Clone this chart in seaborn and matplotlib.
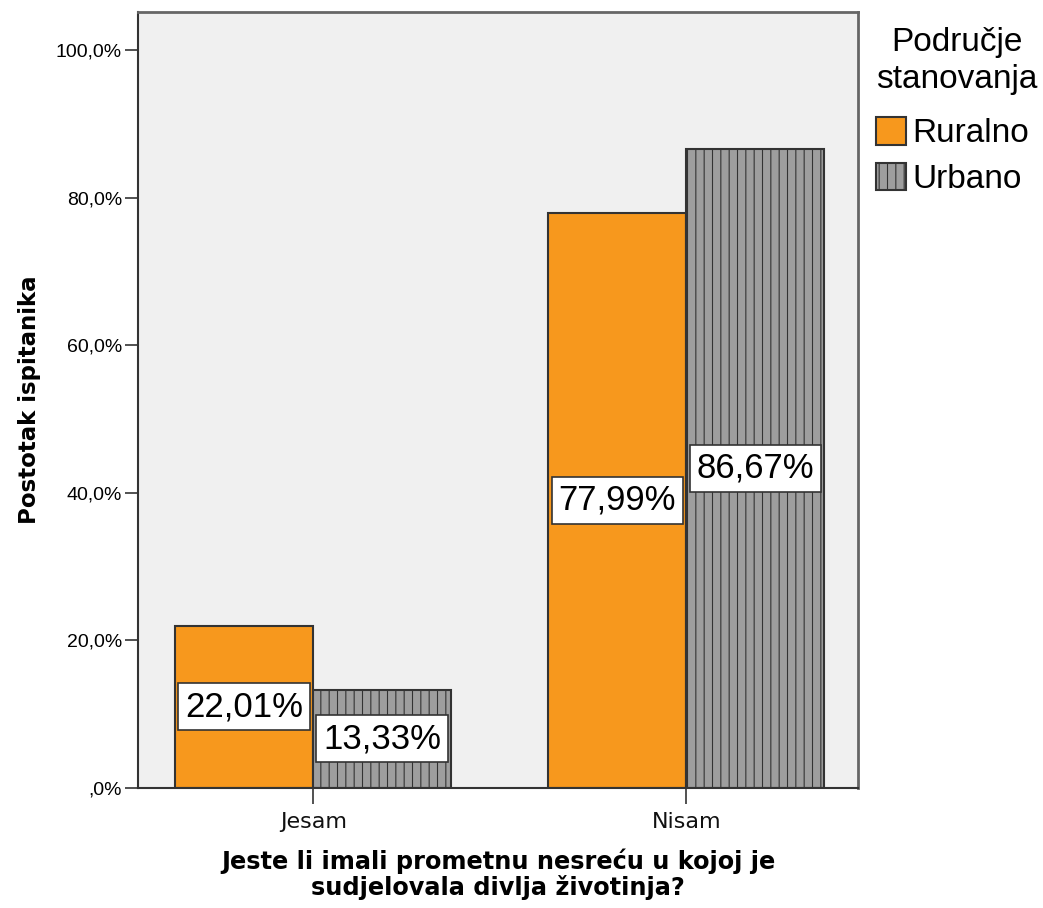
import matplotlib
matplotlib.use("Agg")
import matplotlib.pyplot as plt
import matplotlib.patches as mpatches
import seaborn as sns
import pandas as pd

# ---- data ----
categories = ["Jesam", "Nisam"]
groups = ["Ruralno", "Urbano"]
ruralno = [22.01, 77.99]
urbano = [13.33, 86.67]
value_labels_ruralno = ["22,01%", "77,99%"]
value_labels_urbano = ["13,33%", "86,67%"]
y_ticks = [0, 20, 40, 60, 80, 100]
y_tick_labels = [",0%", "20,0%", "40,0%", "60,0%", "80,0%", "100,0%"]

df = pd.DataFrame({
    "odgovor": categories * 2,
    "podrucje": [groups[0]] * 2 + [groups[1]] * 2,
    "postotak": ruralno + urbano,
})

ORANGE = "#F7981D"
GREY = "#9E9E9E"
EDGE = "#333333"

sns.set_theme(style="white")
plt.rcParams["font.family"] = ["Liberation Sans", "DejaVu Sans"]
plt.rcParams["hatch.color"] = "#808080"
plt.rcParams["hatch.linewidth"] = 0.8
plt.rcParams["text.color"] = "black"
plt.rcParams["axes.labelcolor"] = "black"
plt.rcParams["xtick.color"] = "black"
plt.rcParams["ytick.color"] = "black"

fig = plt.figure(figsize=(10.43, 9.08), dpi=100)
ax = fig.add_axes([138 / 1043, 1 - 788 / 908, (858 - 138) / 1043, (788 - 12) / 908])
ax.set_facecolor("#F0F0F0")

sns.barplot(data=df, x="odgovor", y="postotak", hue="podrucje",
            order=categories, hue_order=groups,
            palette=[ORANGE, GREY], saturation=1, width=0.74, gap=0,
            edgecolor=EDGE, linewidth=1.5, errorbar=None, ax=ax, legend=False)

# hatch the urban bars
for cont, grp in zip(ax.containers, groups):
    if grp == "Urbano":
        for p in cont:
            p.set_hatch("||")

ax.set_xlim(-0.47, 1.46)
ax.set_ylim(0, 105.2)
ax.set_yticks(y_ticks)
ax.set_yticklabels(y_tick_labels, fontsize=14)
ax.tick_params(axis="y", length=9.5, width=1.2, color="#333333", pad=2, left=True)
ax.tick_params(axis="x", length=11.5, width=1.2, color="#333333", pad=6, bottom=True)
for lbl in ax.get_xticklabels():
    lbl.set_family(["DejaVu Sans"])
    lbl.set_fontsize(16)
    lbl.set_color("#111111")

for s in ["top", "right"]:
    ax.spines[s].set_color("#666666")
    ax.spines[s].set_linewidth(2)
for s in ["left", "bottom"]:
    ax.spines[s].set_color("#333333")
    ax.spines[s].set_linewidth(1.5)

ax.set_ylabel("Postotak ispitanika", fontsize=16.5, fontweight="bold",
              family=["DejaVu Sans"], labelpad=11)
ax.set_xlabel("Jeste li imali prometnu nesreću u kojoj je\nsudjelovala divlja životinja?",
              fontsize=17.3, fontweight="bold", family=["DejaVu Sans"],
              labelpad=12, linespacing=1.05)

bbox = dict(facecolor="white", edgecolor="#333333", linewidth=1.2,
            boxstyle="square,pad=0.2")
ax.bar_label(ax.containers[0], labels=value_labels_ruralno, label_type="center",
             fontsize=25, bbox=bbox, color="black")
ax.bar_label(ax.containers[1], labels=value_labels_urbano, label_type="center",
             fontsize=25, bbox=bbox, color="black")

# legend title as text, legend entries below
fig.text(957 / 1043, 1 - 61 / 908, "Područje\nstanovanja", ha="center", va="center",
         fontsize=24, linespacing=1.25, color="black")
handles = [
    mpatches.Patch(facecolor=ORANGE, edgecolor=EDGE, linewidth=1.5, label="Ruralno"),
    mpatches.Patch(facecolor=GREY, edgecolor=EDGE, linewidth=1.5, hatch="||", label="Urbano"),
]
leg = fig.legend(handles=handles, loc="upper left",
                 bbox_to_anchor=(876 / 1043, 1 - 117 / 908), frameon=False,
                 fontsize=24, handlelength=0.9, handleheight=0.9,
                 handletextpad=0.2, labelspacing=0.4, borderaxespad=0, borderpad=0)

fig.savefig("out.png", dpi=100)
